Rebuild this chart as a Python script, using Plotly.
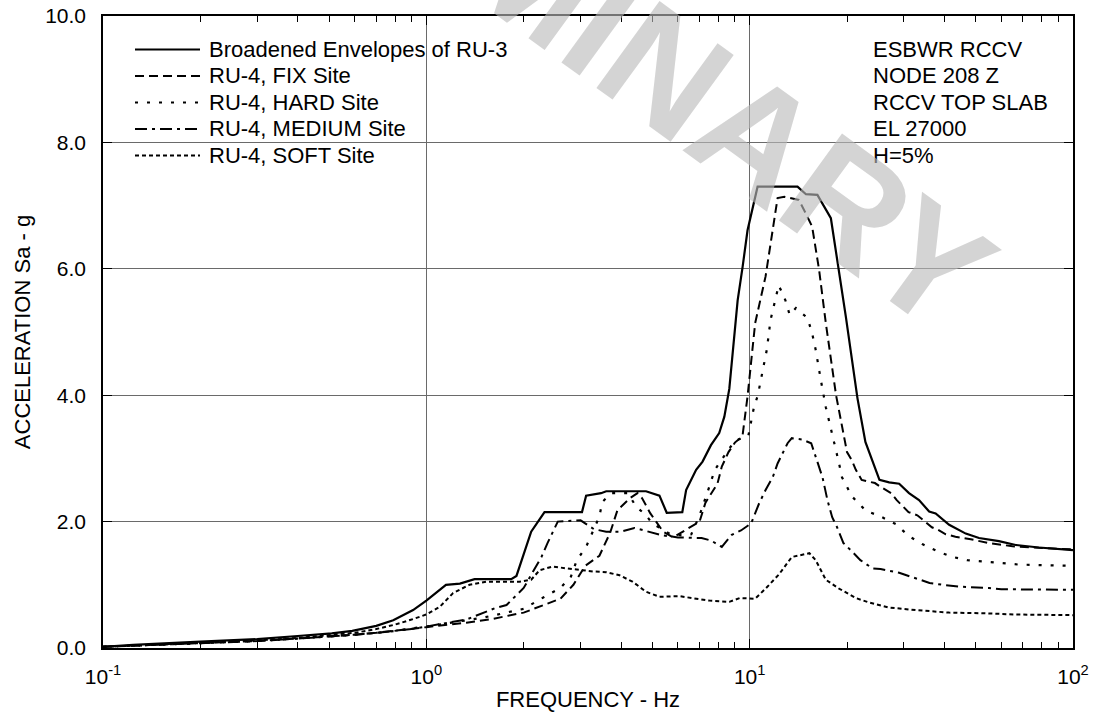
import plotly.graph_objects as go

# ---------------- data ----------------
env_f = [0.1, 0.124, 0.2, 0.3, 0.4, 0.51, 0.59, 0.7, 0.79, 0.91, 1.0, 1.1, 1.15, 1.27, 1.41, 1.83, 1.9,
         2.11, 2.32, 3.03, 3.12, 3.47, 3.6, 4.78, 5.26, 5.54, 6.19, 6.36, 6.83, 7.15, 7.59, 8.05, 8.35,
         8.65, 9.18, 9.51, 9.85, 10.58, 14.06, 14.93, 16.2, 17.83, 18.68, 19.84, 21.55, 22.8, 25.2,
         27.0, 29.0, 31.1, 33.4, 35.9, 37.6, 41.4, 46.6, 51.2, 59.0, 66.5, 78.4, 100.0]
env_a = [0.02, 0.05, 0.1, 0.14, 0.19, 0.23, 0.27, 0.35, 0.44, 0.6, 0.75, 0.92, 1.0, 1.02, 1.09, 1.09, 1.14,
         1.84, 2.15, 2.15, 2.41, 2.45, 2.48, 2.48, 2.41, 2.14, 2.15, 2.5, 2.82, 2.95, 3.21, 3.4, 3.66,
         4.1, 5.5, 6.03, 6.61, 7.3, 7.3, 7.18, 7.17, 6.8, 6.14, 5.24, 3.95, 3.26, 2.66,
         2.62, 2.6, 2.45, 2.34, 2.16, 2.13, 1.95, 1.81, 1.74, 1.69, 1.63, 1.59, 1.55]

fix_f = [0.1, 0.2, 0.3, 0.4, 0.5, 0.6, 0.7, 0.8, 0.9, 1.0, 1.33, 1.6, 2.0, 2.37, 2.6, 2.85, 3.1, 3.43,
         3.7, 3.9, 4.26, 4.5, 4.65, 4.93, 5.4, 5.8, 6.5, 7.0, 7.3, 7.95, 8.2, 8.6, 9.0, 9.5, 9.85, 10.4,
         11.2, 11.8, 12.2, 12.8, 14.2, 14.9, 15.6, 16.4, 17.2, 18.5, 19.4, 20.0, 20.7, 21.3, 22.2, 23.3,
         24.4, 25.4, 27.4, 28.5, 30.0, 31.0, 33.0, 34.5, 36.6, 38.3, 40.4, 43.3, 46.3, 48.3, 55.0, 62.0,
         65.0, 75.0, 85.0, 100.0]
fix_a = [0.02, 0.07, 0.11, 0.15, 0.18, 0.21, 0.24, 0.27, 0.3, 0.33, 0.4, 0.46, 0.56, 0.7, 0.78, 1.0, 1.3, 1.46,
         1.82, 2.18, 2.37, 2.45, 2.37, 2.13, 1.84, 1.75, 1.9, 2.0, 2.3, 2.6, 2.87, 3.1, 3.25, 3.35, 3.98, 5.14,
         5.88, 6.61, 7.12, 7.14, 7.09, 6.88, 6.67, 5.98, 5.14, 4.0, 3.45, 3.1, 2.97, 2.82, 2.66, 2.63,
         2.61, 2.55, 2.45, 2.34, 2.23, 2.15, 2.1, 2.02, 1.91, 1.87, 1.8, 1.76, 1.74, 1.72, 1.66, 1.63,
         1.61, 1.59, 1.58, 1.56]

hard_f = [0.1, 0.2, 0.3, 0.4, 0.5, 0.6, 0.7, 0.8, 0.9, 1.0, 1.5, 2.0, 2.3, 2.6, 2.8, 2.92, 3.12, 3.3,
          3.43, 3.5, 3.73, 4.2, 4.45, 4.78, 5.0, 5.6, 6.2, 6.6, 7.0, 7.5, 7.8, 8.5, 9.0, 9.9, 10.3, 10.6,
          11.3, 11.6, 11.9, 12.3, 12.9, 13.3, 13.9, 15.1, 15.6, 16.0, 16.6, 17.2, 18.9, 19.3, 20.0, 20.7,
          22.9, 25.2, 28.3, 31.1, 34.3, 38.1, 42.4, 47.1, 52.6, 68.0, 100.0]
hard_a = [0.02, 0.07, 0.11, 0.15, 0.18, 0.21, 0.24, 0.27, 0.31, 0.34, 0.48, 0.62, 0.8, 0.95, 1.13, 1.39, 1.6, 1.87,
          2.08, 2.31, 2.45, 2.45, 2.24, 2.1, 1.97, 1.82, 1.78, 1.8, 2.1, 2.55, 2.82, 3.1, 3.28, 3.35, 3.8, 4.0,
          4.72, 5.19, 5.45, 5.74, 5.5, 5.27, 5.38, 5.22, 4.98, 4.72, 4.24, 3.81, 2.92, 2.7, 2.55, 2.4,
          2.17, 2.09, 1.96, 1.77, 1.64, 1.53, 1.44, 1.39, 1.37, 1.32, 1.3]

med_f = [0.1, 0.2, 0.3, 0.4, 0.5, 0.6, 0.7, 0.8, 0.9, 1.0, 1.33, 1.63, 1.77, 2.0, 2.27, 2.37, 2.55, 3.0,
         3.3, 3.6, 4.0, 4.4, 4.8, 5.4, 6.0, 6.6, 7.1, 7.6, 8.2, 8.8, 9.4, 10.1, 10.7, 11.2, 11.8, 12.2,
         13.1, 13.5, 14.5, 15.5, 16.1, 16.8, 17.4, 18.0, 18.6, 19.5, 20.8, 22.0, 24.0, 25.4, 29.0, 31.5,
         33.4, 36.0, 39.5, 45.0, 55.0, 60.0, 100.0]
med_a = [0.02, 0.07, 0.11, 0.15, 0.18, 0.21, 0.24, 0.27, 0.3, 0.34, 0.45, 0.63, 0.68, 0.95, 1.44, 1.66, 2.0, 2.02,
         1.88, 1.84, 1.84, 1.9, 1.85, 1.78, 1.75, 1.74, 1.74, 1.7, 1.6, 1.79, 1.86, 1.97, 2.29, 2.5, 2.71, 2.92,
         3.24, 3.32, 3.3, 3.24, 2.97, 2.7, 2.34, 2.07, 1.92, 1.66, 1.52, 1.39, 1.26, 1.25, 1.19, 1.13,
         1.08, 1.03, 1.0, 0.97, 0.95, 0.93, 0.92]

soft_f = [0.1, 0.2, 0.3, 0.4, 0.5, 0.6, 0.7, 0.8, 0.9, 1.0, 1.1, 1.21, 1.36, 1.53, 1.94, 2.11, 2.24, 2.46,
          2.71, 3.0, 3.3, 3.6, 3.96, 4.34, 4.78, 5.26, 6.06, 7.5, 8.65, 9.32, 10.4, 11.2, 12.3, 13.5, 15.3,
          16.0, 17.2, 18.9, 21.3, 23.4, 27.0, 32.6, 41.4, 52.6, 66.5, 100.0]
soft_a = [0.02, 0.08, 0.12, 0.16, 0.2, 0.24, 0.3, 0.37, 0.45, 0.53, 0.65, 0.87, 1.0, 1.05, 1.05, 1.08, 1.23, 1.29,
          1.26, 1.23, 1.21, 1.2, 1.15, 1.05, 0.89, 0.81, 0.82, 0.75, 0.73, 0.79, 0.78, 0.94, 1.16, 1.44, 1.5,
          1.39, 1.08, 0.94, 0.79, 0.72, 0.64, 0.6, 0.56, 0.55, 0.53, 0.52]

series_names = ["Broadened Envelopes of RU-3", "RU-4, FIX Site", "RU-4, HARD Site",
                "RU-4, MEDIUM Site", "RU-4, SOFT Site"]
info_lines = ["ESBWR RCCV", "NODE 208 Z", "RCCV TOP SLAB", "EL 27000", "H=5%"]
x_tickvals = [0.1, 1, 10, 100]
x_ticktext = ["10<sup>-1</sup>", "10<sup>0</sup>", "10<sup>1</sup>", "10<sup>2</sup>"]

# ---------------- styling ----------------
FONT = "Liberation Sans, Arial, sans-serif"
FS = 22      # legend / info / axis titles
FT = 21      # tick labels
dashes = ["solid", "9px,5px", "3px,9px", "12px,5px,3px,5px", "4px,3px"]
widths = [2.2, 2.0, 2.2, 2.0, 2.0]

W, H = 1096, 723
L, R, T, B = 103, 23, 16, 75
PW, PH = W - L - R, H - T - B


def px(x):
    return (x - L) / PW


def py(y):
    return (H - B - y) / PH


fig = go.Figure()
data = [(env_f, env_a), (fix_f, fix_a), (hard_f, hard_a), (med_f, med_a), (soft_f, soft_a)]
for (f, a), name, d, w in zip(data, series_names, dashes, widths):
    fig.add_trace(go.Scatter(x=f, y=a, mode="lines", name=name,
                             line=dict(color="black", width=w, dash=d), showlegend=False))

shapes = []
annotations = []
# white boxes behind legend / info text (cover grid lines)
shapes.append(dict(type="rect", xref="paper", yref="paper", layer="between",
                   x0=px(104), x1=px(587), y0=py(175), y1=py(26),
                   fillcolor="white", line=dict(width=0)))
shapes.append(dict(type="rect", xref="paper", yref="paper", layer="between",
                   x0=px(797), x1=px(1072), y0=py(175), y1=py(26),
                   fillcolor="white", line=dict(width=0)))

row_y = [49.5, 76, 102.5, 129, 155.5]
for i, name in enumerate(series_names):
    shapes.append(dict(type="line", xref="paper", yref="paper", layer="above",
                       x0=px(135), x1=px(200), y0=py(row_y[i]), y1=py(row_y[i]),
                       line=dict(color="black", width=widths[i], dash=dashes[i])))
    annotations.append(dict(text=name, xref="paper", yref="paper", x=px(207), y=py(row_y[i]),
                            xanchor="left", yanchor="middle", showarrow=False,
                            font=dict(family=FONT, size=FS, color="black")))
for i, t in enumerate(info_lines):
    annotations.append(dict(text=t, xref="paper", yref="paper", x=px(871), y=py(row_y[i]),
                            xanchor="left", yanchor="middle", showarrow=False,
                            font=dict(family=FONT, size=FS, color="black")))

# watermark
annotations.append(dict(text="<b>PRELIMINARY</b>", xref="paper", yref="paper", x=px(540), y=py(-20),
                        xanchor="center", yanchor="middle", showarrow=False, textangle=36,
                        font=dict(family=FONT, size=156, color="rgba(185,185,185,0.62)")))

minor_vals = [m * 10 ** e for e in (-1, 0, 1) for m in range(2, 10)]

fig.update_layout(
    width=W, height=H,
    margin=dict(l=L, r=R, t=T, b=B, autoexpand=False),
    paper_bgcolor="white", plot_bgcolor="white",
    font=dict(family=FONT, size=FS, color="black"),
    shapes=shapes, annotations=annotations,
    xaxis=dict(type="log", range=[-1, 2], showline=True, linecolor="black", linewidth=1.5,
               mirror="ticks", ticks="inside", ticklen=9, tickwidth=1, tickcolor="black",
               tickvals=x_tickvals, ticktext=x_ticktext, ticklabelstandoff=9,
               showgrid=True, gridcolor="#6a6a6a", gridwidth=1, zeroline=False,
               minor=dict(ticks="inside", ticklen=6, tickwidth=1, tickcolor="black",
                          tickvals=minor_vals, showgrid=False),
               tickfont=dict(family=FONT, size=FT),
               title=dict(text="FREQUENCY - Hz", font=dict(family=FONT, size=FS), standoff=5)),
    yaxis=dict(range=[0, 10], dtick=2, tick0=0, tickformat=".1f", showline=True, linecolor="black",
               linewidth=1.5, mirror="ticks", ticks="inside", ticklen=9, tickwidth=1, tickcolor="black",
               showgrid=True, gridcolor="#6a6a6a", gridwidth=1, zeroline=False,
               tickfont=dict(family=FONT, size=FT), ticklabelstandoff=11,
               title=dict(text="ACCELERATION Sa - g", font=dict(family=FONT, size=FS), standoff=8)),
)

fig.write_html("out.html", config={"displayModeBar": False},
               post_script="document.body.style.margin='0px';")
